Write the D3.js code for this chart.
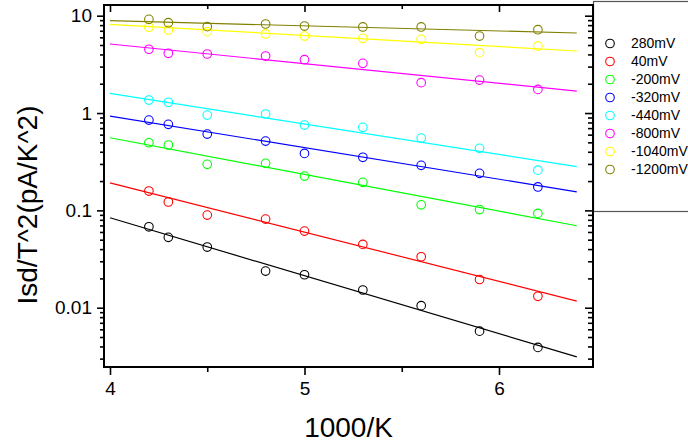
<!DOCTYPE html>
<html>
<head>
<meta charset="utf-8">
<script src="https://cdn.jsdelivr.net/npm/d3@7"></script>
<style>
  html, body { margin: 0; padding: 0; background: #fff; }
  svg { display: block; }
  text { font-family: Arial, "Liberation Sans", sans-serif; }
</style>
</head>
<body>
<svg id="chart" width="688" height="447"></svg>
<script>
// ---- data ----
const xValues = [4.2, 4.3, 4.5, 4.8, 5.0, 5.3, 5.6, 5.9, 6.2];
const seriesLabels = ["280mV", "40mV", "-200mV", "-320mV", "-440mV", "-800mV", "-1040mV", "-1200mV"];
const seriesColors = ["#000000", "#ff0000", "#00ff00", "#0000ff", "#00ffff", "#ff00ff", "#ffff00", "#808000"];
const v280 = [0.0678, 0.0528, 0.0420, 0.0238, 0.0218, 0.0152, 0.0105, 0.00574, 0.00391];
const v40 = [0.158, 0.122, 0.0895, 0.0814, 0.0613, 0.0447, 0.0334, 0.0195, 0.0131];
const vm200 = [0.495, 0.469, 0.297, 0.304, 0.225, 0.194, 0.114, 0.102, 0.093];
const vm320 = [0.847, 0.765, 0.608, 0.515, 0.385, 0.351, 0.290, 0.240, 0.174];
const vm440 = [1.36, 1.29, 0.953, 0.977, 0.753, 0.713, 0.553, 0.434, 0.259];
const vm800 = [4.52, 4.11, 4.04, 3.85, 3.53, 3.24, 2.05, 2.18, 1.75];
const vm1040 = [7.60, 7.13, 6.85, 6.49, 6.18, 5.86, 5.72, 4.17, 4.88];
const vm1200 = [9.18, 8.47, 7.71, 8.22, 7.83, 7.66, 7.66, 6.18, 7.18];
const seriesValues = [v280, v40, vm200, vm320, vm440, vm800, vm1040, vm1200];
// fitted lines: values at x = 4.0 and x = 6.4
const fitX = [4.0, 6.4];
const fitStart = [0.0839, 0.192, 0.557, 0.931, 1.59, 5.12, 8.16, 8.89];
const fitEnd = [0.00313, 0.0117, 0.0695, 0.155, 0.281, 1.68, 4.34, 6.64];
const xMajorTicks = [4, 5, 6];
const xMinorTicks = [4.5, 5.5];
const yMajorTicks = [0.01, 0.1, 1, 10];
const yTickLabels = ["0.01", "0.1", "1", "10"];

// ---- layout ----
const L = 104, R = 593, T = 5, B = 367;
const svg = d3.select("#chart");
const x = d3.scaleLinear().domain([3.9692, 6.4833]).range([L, R]);
const y = d3.scaleLog().domain([0.00246, 12.88]).range([B, T]);

const yMinorTicks = [];
[0.001, 0.01, 0.1, 1, 10].forEach(d => { for (let k = 2; k <= 9; k++) { const v = d * k; if (v >= 0.00246 && v <= 12.88) yMinorTicks.push(v); } });

// legend box (behind axis)
svg.append("rect").attr("x", 593.5).attr("y", 1.5).attr("width", 110).attr("height", 210)
  .attr("fill", "#fff").attr("stroke", "#555").attr("stroke-width", 1.2);

// clip for plot
svg.append("clipPath").attr("id", "clip").append("rect").attr("x", L).attr("y", T).attr("width", R - L).attr("height", B - T);
const plot = svg.append("g").attr("clip-path", "url(#clip)");

// fit lines
seriesLabels.forEach((s, i) => {
  const pts = [[fitX[0], fitStart[i]], [fitX[1], fitEnd[i]]];
  plot.append("path")
    .attr("d", d3.line().x(d => x(d[0])).y(d => y(d[1]))(pts))
    .attr("fill", "none").attr("stroke", seriesColors[i]).attr("stroke-width", 1.2);
});
// points
seriesLabels.forEach((s, i) => {
  plot.selectAll(null).data(seriesValues[i]).enter().append("circle")
    .attr("cx", (d, j) => x(xValues[j])).attr("cy", d => y(d)).attr("r", 4.3)
    .attr("fill", "none").attr("stroke", seriesColors[i]).attr("stroke-width", 1.1);
});

function styleAxis(g) {
  g.select(".domain").remove();
  g.selectAll("line").attr("stroke", "#000").attr("stroke-width", 1.6);
  g.selectAll("text").attr("font-family", "Arial, 'Liberation Sans', sans-serif").attr("fill", "#000");
}
// bottom axis
svg.append("g").attr("transform", `translate(0,${B})`)
  .call(d3.axisBottom(x).tickValues(xMajorTicks).tickSize(8).tickPadding(7).tickFormat(d3.format("d")))
  .call(styleAxis).call(g => g.selectAll("text").attr("font-size", 19));
svg.append("g").attr("transform", `translate(0,${B})`)
  .call(d3.axisBottom(x).tickValues(xMinorTicks).tickSize(5).tickFormat(""))
  .call(styleAxis);
// top axis (inward)
svg.append("g").attr("transform", `translate(0,${T})`)
  .call(d3.axisBottom(x).tickValues(xMajorTicks).tickSize(7).tickFormat(""))
  .call(styleAxis);
svg.append("g").attr("transform", `translate(0,${T})`)
  .call(d3.axisBottom(x).tickValues(xMinorTicks).tickSize(4).tickFormat(""))
  .call(styleAxis);
// left axis
svg.append("g").attr("transform", `translate(${L},0)`)
  .call(d3.axisLeft(y).tickValues(yMajorTicks).tickSize(7).tickPadding(5).tickFormat((d, i) => yTickLabels[i]))
  .call(styleAxis).call(g => g.selectAll("text").attr("font-size", 19));
svg.append("g").attr("transform", `translate(${L},0)`)
  .call(d3.axisLeft(y).tickValues(yMinorTicks).tickSize(4).tickFormat(""))
  .call(styleAxis);
// right axis (inward)
svg.append("g").attr("transform", `translate(${R},0)`)
  .call(d3.axisLeft(y).tickValues(yMajorTicks).tickSize(8).tickFormat(""))
  .call(styleAxis);
svg.append("g").attr("transform", `translate(${R},0)`)
  .call(d3.axisLeft(y).tickValues(yMinorTicks).tickSize(5).tickFormat(""))
  .call(styleAxis);

// frame
svg.append("rect").attr("x", L).attr("y", T).attr("width", R - L).attr("height", B - T)
  .attr("fill", "none").attr("stroke", "#000").attr("stroke-width", 2);

// axis titles
svg.append("text").attr("x", (L + R) / 2).attr("y", 437).attr("text-anchor", "middle")
  .attr("font-size", 28).text("1000/K");
svg.append("text").attr("transform", "translate(37,205) rotate(-90)").attr("text-anchor", "middle")
  .attr("font-size", 28).text("Isd/T^2(pA/K^2)");

// legend
const leg = svg.append("g");
seriesLabels.forEach((s, i) => {
  const yy = 43.5 + i * 18;
  leg.append("circle").attr("cx", 610).attr("cy", yy).attr("r", 4.3)
    .attr("fill", "none").attr("stroke", seriesColors[i]).attr("stroke-width", 1.1);
  leg.append("text").attr("x", 631).attr("y", yy).attr("dy", "0.35em").attr("font-size", 14).text(s);
});
</script>
</body>
</html>
